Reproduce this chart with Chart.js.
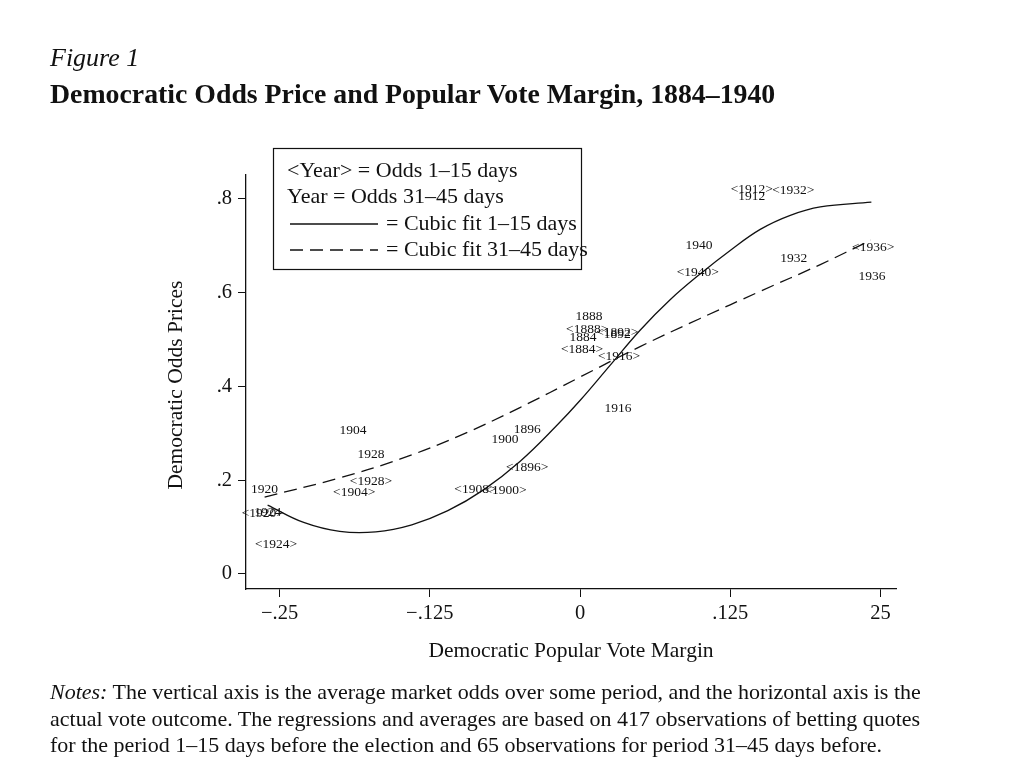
<!DOCTYPE html>
<html>
<head>
<meta charset="utf-8">
<script src="https://cdn.jsdelivr.net/npm/chart.js@4"></script>
<style>
body{margin:0;background:#fff;font-family:"Liberation Serif",serif;color:#111;}
#wrap{position:relative;width:1016px;height:778px;}
canvas{position:absolute;left:0;top:0;}
.t{position:absolute;left:50px;white-space:nowrap;}
</style>
</head>
<body>
<div id="wrap">
<canvas id="c" width="1016" height="778"></canvas>
<div class="t" style="top:43px;font-size:26px;font-style:italic;">Figure 1</div>
<div class="t" style="top:78px;font-size:27.8px;font-weight:bold;">Democratic Odds Price and Popular Vote Margin, 1884–1940</div>
<div class="t" style="top:679px;font-size:22px;line-height:26.5px;"><i>Notes:</i> The vertical axis is the average market odds over some period, and the horizontal axis is the<br>actual vote outcome. The regressions and averages are based on 417 observations of betting quotes<br>for the period 1–15 days before the election and 65 observations for period 31–45 days before.</div>
</div>
<script>
// year labels: text, vote margin, odds price
var yearText = ["1920","<1920>","1924","<1924>","1904","1928","<1928>","<1904>","<1908>","<1900>",
  "1896","1900","<1896>","1888","<1888>","1884","<1892>","1892","<1884>","<1916>","1916",
  "1940","<1940>","<1912>","1912","<1932>","1932","<1936>","1936"];
var yearX = [-.2625,-.264,-.26,-.253,-.189,-.174,-.174,-.188,-.087,-.062,
  -.044,-.0625,-.044,.0075,.006,.0025,.031,.031,.0017,.0325,.0317,
  .099,.098,.143,.143,.1775,.178,.244,.243];
var yearY = [.181,.130,.132,.064,.307,.256,.198,.173,.181,.179,
  .309,.286,.228,.550,.522,.505,.516,.510,.478,.463,.354,
  .701,.644,.821,.806,.817,.672,.697,.635];

// cubic fits
var fit1X = [-.26,-.23,-.2,-.17,-.14,-.11,-.08,-.05,-.02,0,.025,.05,.075,.1,.125,.15,.175,.2,.2425];
var fit1Y = [.147,.11,.091,.09,.105,.135,.18,.24,.315,.37,.445,.52,.585,.64,.69,.735,.765,.783,.793];
var fit2X = [-.2625,-.2,-.15,-.1,-.05,0,.05,.1,.15,.2,.242];
var fit2Y = [.164,.205,.245,.295,.355,.42,.485,.545,.603,.66,.712];

var xTicks = [-.25,-.125,0,.125,.25];
var xTickText = ["−.25","−.125","0",".125","25"];
var yTicks = [0,.2,.4,.6,.8];
var yTickText = ["0",".2",".4",".6",".8"];

function pts(xs, ys){ return xs.map(function(x,i){ return {x:x, y:ys[i]}; }); }

var overlay = {
  id:'overlay',
  afterDatasetsDraw: function(chart){
    var c = chart.ctx, sx = chart.scales.x, sy = chart.scales.y;
    c.save();
    c.fillStyle = '#111';
    c.font = '13.5px "Liberation Serif"';
    c.textAlign = 'center'; c.textBaseline = 'middle';
    yearText.forEach(function(t,i){
      c.fillText(t, sx.getPixelForValue(yearX[i]), sy.getPixelForValue(yearY[i]));
    });
    // legend box
    c.strokeStyle = '#111'; c.lineWidth = 1.2;
    c.strokeRect(273.5,148.5,308,121);
    c.font = '22px "Liberation Serif"';
    c.textAlign = 'left';
    c.fillText('<Year> = Odds 1–15 days', 287, 171);
    c.fillText('Year = Odds 31–45 days', 287, 197);
    c.fillText('= Cubic fit 1–15 days', 386, 224);
    c.fillText('= Cubic fit 31–45 days', 386, 250);
    c.lineWidth = 1.3;
    c.beginPath(); c.moveTo(290,224); c.lineTo(378,224); c.stroke();
    c.setLineDash([13,7]);
    c.beginPath(); c.moveTo(290,250); c.lineTo(378,250); c.stroke();
    c.setLineDash([]);
    // axis titles
    c.font = '21.5px "Liberation Serif"';
    c.textAlign = 'center';
    c.fillText('Democratic Popular Vote Margin', 571, 651);
    c.translate(176, 385); c.rotate(-Math.PI/2);
    c.fillText('Democratic Odds Prices', 0, 0);
    c.restore();
  }
};

new Chart(document.getElementById('c'), {
  type: 'line',
  data: {
    datasets: [
      {data: pts(fit1X, fit1Y), borderColor:'#111', borderWidth:1.3, pointRadius:0, tension:0.4, fill:false},
      {data: pts(fit2X, fit2Y), borderColor:'#111', borderWidth:1.3, borderDash:[13,7], pointRadius:0, tension:0.4, fill:false}
    ]
  },
  options: {
    responsive:false, animation:false,
    layout:{padding:{left:160, right:120, top:175, bottom:100}},
    plugins:{legend:{display:false}, tooltip:{enabled:false}},
    scales:{
      x:{type:'linear', min:-.278, max:.263,
        afterBuildTicks:function(s){ s.ticks = xTicks.map(function(v){return {value:v};}); },
        afterFit:function(s){ s.height = 89; },
        ticks:{color:'#111', font:{family:'Liberation Serif', size:20.5}, padding:4,
          callback:function(v){ var i = xTicks.indexOf(v); return i<0 ? '' : xTickText[i]; }},
        grid:{drawOnChartArea:false, tickLength:8, color:'#111'},
        border:{color:'#111', width:1.3}
      },
      y:{type:'linear', min:-.032, max:.851,
        afterBuildTicks:function(s){ s.ticks = yTicks.map(function(v){return {value:v};}); },
        afterFit:function(s){ s.width = 86; },
        ticks:{color:'#111', font:{family:'Liberation Serif', size:20.5}, padding:6,
          callback:function(v){ var i = yTicks.indexOf(v); return i<0 ? '' : yTickText[i]; }},
        grid:{drawOnChartArea:false, tickLength:8, color:'#111'},
        border:{color:'#111', width:1.3}
      }
    }
  },
  plugins:[overlay]
});
</script>
</body>
</html>
